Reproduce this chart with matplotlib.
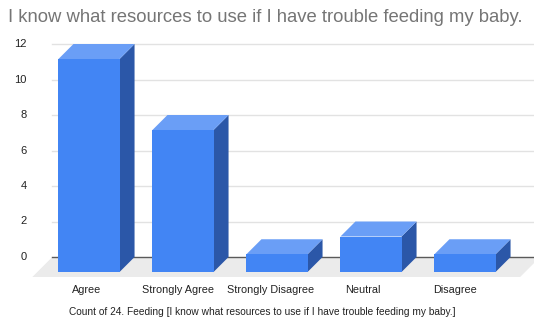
import matplotlib
matplotlib.use("Agg")
import matplotlib.pyplot as plt
from matplotlib.patches import Polygon, Rectangle

plt.rcParams['font.family'] = ['Liberation Sans', 'DejaVu Sans']

# Responses and their counts
categories = ["Agree", "Strongly Agree", "Strongly Disagree", "Neutral", "Disagree"]
counts = [12, 8, 1, 2, 1]
y_ticks = [0, 2, 4, 6, 8, 10, 12]
title = "I know what resources to use if I have trouble feeding my baby."
x_title = "Count of 24. Feeding [I know what resources to use if I have trouble feeding my baby.]"

FRONT = "#4285f4"
TOP = "#6a9ef6"
SIDE = "#2b57a8"
FLOOR = "#ebebeb"
GRID = "#e2e2e2"
ZERO = "#5a5a5a"
TEXT = "#222222"

W, H = 534, 326
fig = plt.figure(figsize=(W / 100, H / 100), dpi=100)
fig.patch.set_facecolor("white")

# front plane of the bars, in pixel placement
left_px, right_px = 42, 512
bottom_px, top_px = 272, 59
ax = fig.add_axes([left_px / W, (H - bottom_px) / H,
                   (right_px - left_px) / W, (bottom_px - top_px) / H])
ax.set_xlim(-0.5, len(categories) - 0.5)
ax.set_ylim(0, 12)
ax.axis("off")

# pixel -> data scale factors, for the 3D depth offsets
p0 = ax.transData.transform((0, 0))
p1 = ax.transData.transform((1, 1))
px_x = p1[0] - p0[0]
px_y = p1[1] - p0[1]
depth = 15
dx, dy = depth / px_x, depth / px_y
fdx, fdy = 5 / px_x, 5 / px_y

# floor
fx0, fx1 = -0.55, 4.64
floor = Polygon([(fx0 - fdx, -fdy), (fx1 - fdx, -fdy),
                 (fx1 + dx, dy), (fx0 + dx, dy)],
                closed=True, facecolor=FLOOR, edgecolor="none",
                clip_on=False, zorder=1)
ax.add_patch(floor)

# gridlines on the back wall
for t in y_ticks:
    ax.plot([fx0 + dx, fx1 + dx + 0.3], [t + dy, t + dy],
            color=ZERO if t == 0 else GRID, lw=1.0,
            clip_on=False, zorder=2)
    ax.text(-0.66, t + dy, str(t), ha="right", va="center",
            fontsize=8, color=TEXT, clip_on=False)

# bars
bw = 0.65
for i, v in enumerate(counts):
    x0, x1 = i - bw / 2, i + bw / 2
    ax.add_patch(Polygon([(x1, 0), (x1 + dx, dy), (x1 + dx, v + dy), (x1, v)],
                         closed=True, facecolor=SIDE, edgecolor="none",
                         clip_on=False, zorder=3))
    ax.add_patch(Polygon([(x0, v), (x1, v), (x1 + dx, v + dy), (x0 + dx, v + dy)],
                         closed=True, facecolor=TOP, edgecolor="none",
                         clip_on=False, zorder=3))
    ax.add_patch(Rectangle((x0, 0), bw, v, facecolor=FRONT, edgecolor="none",
                           clip_on=False, zorder=4))

# category labels
lab_y = -18 / px_y
for i, name in enumerate(categories):
    ax.text(i * 0.98 - 0.03, lab_y, name, ha="center", va="center",
            fontsize=7.8, color=TEXT, clip_on=False)

fig.text(262 / W, 1 - 312 / H, x_title, ha="center", va="center",
         fontsize=7.3, color=TEXT)
fig.text(8 / W, 1 - 17 / H, title, ha="left", va="center",
         fontsize=13.3, color="#757575")

fig.savefig("out.png", dpi=100)
